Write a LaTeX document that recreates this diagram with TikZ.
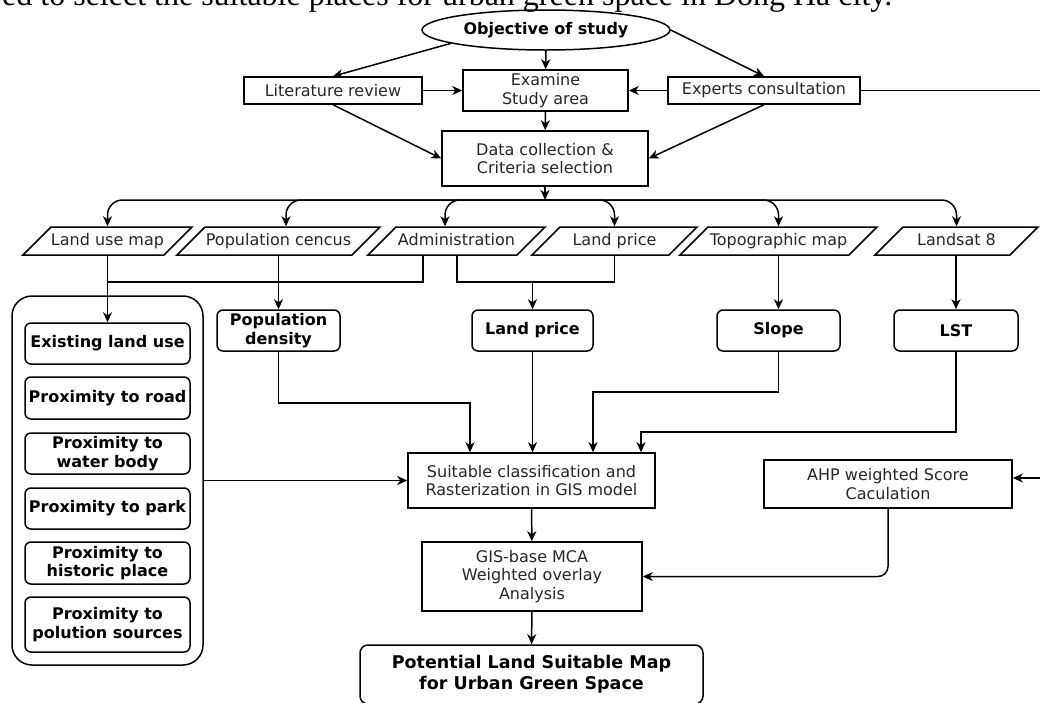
\documentclass[tikz,border=0pt]{standalone}
\usepackage{fontspec}
\setmainfont{DejaVu Sans}
\newfontfamily\capfont{Liberation Serif}
\usetikzlibrary{shapes.geometric,arrows.meta}

\begin{document}
\begin{tikzpicture}[x=1pt, y=-1pt, line width=1.5pt,
	>={Stealth[length=10pt,width=9pt,inset=3pt]},
	txt/.style={font=\fontsize{16}{18.5}\selectfont, text=black!85},
	bld/.style={font=\fontsize{16}{18.5}\selectfont\bfseries},
	box/.style={draw, rectangle, inner sep=0pt, align=center, txt},
	rbox/.style={draw, rectangle, rounded corners=6pt, inner sep=0pt, align=center, bld},
	dat/.style={draw, trapezium, trapezium left angle=45, trapezium right angle=135, trapezium stretches body, text height=12pt, text depth=4pt, inner xsep=0pt, inner ysep=6pt, txt}]
	\useasboundingbox (0,0) rectangle (1040,702);
	\clip (0,0) rectangle (1040,702);
	\node (cap) at (893,5) [anchor=base east, inner sep=0pt, font=\capfont\fontsize{32}{36}\selectfont] {ed to select the suitable places for urban green space in Dong Ha city.};
	\node (obj) at (546,30) [ellipse, draw, minimum width=248pt, minimum height=40pt, inner sep=0pt, bld] {Objective of study};
	\node (lit) at (333,90.5) [box, minimum width=178pt, minimum height=27pt] {Literature review};
	\node (exam) at (545.5,90.5) [box, minimum width=165pt, minimum height=41pt] {Examine\\Study area};
	\node (exp) at (764,90.5) [box, minimum width=192pt, minimum height=27pt] {Experts consultation};
	\node (data) at (545,158.5) [box, minimum width=206pt, minimum height=55pt] {Data collection \&\\Criteria selection};
		\node (lum) at (107.5,241) [dat, minimum width=165pt] {Land use map};
		\node (pop) at (278.5,241) [dat, minimum width=203pt] {Population cencus};
		\node (adm) at (456.5,241) [dat, minimum width=177pt] {Administration};
		\node (lpr) at (614.5,241) [dat, minimum width=165pt] {Land price};
		\node (topo) at (778.5,241) [dat, minimum width=197pt] {Topographic map};
		\node (lsat) at (956.5,241) [dat, minimum width=163pt] {Landsat 8};
			\node (popd) at (278.5,330.5) [rbox, minimum width=123pt, minimum height=41pt] {Population\\density};
			\node (lp) at (532.5,330.5) [rbox, minimum width=121pt, minimum height=41pt] {Land price};
			\node (slope) at (778.5,330.5) [rbox, minimum width=123pt, minimum height=41pt] {Slope};
			\node (lst) at (956,330.5) [rbox, minimum width=124pt, minimum height=41pt] {LST};
	\node (panel) at (107.5,480.5) [draw, rounded corners=20pt, minimum width=191pt, minimum height=369pt] {};
		\node (elu) at (107.5,343.5) [rbox, minimum width=165pt, minimum height=41pt] {Existing land use};
		\node (prd) at (107.5,398) [rbox, minimum width=165pt, minimum height=42pt] {Proximity to road};
		\node (pwb) at (107.5,453.5) [rbox, minimum width=165pt, minimum height=41pt] {Proximity to\\water body};
		\node (ppk) at (107.5,508.5) [rbox, minimum width=165pt, minimum height=41pt] {Proximity to park};
		\node (phs) at (107.5,563) [rbox, minimum width=165pt, minimum height=42pt] {Proximity to\\historic place};
		\node (pps) at (107.5,624.5) [rbox, minimum width=165pt, minimum height=55pt] {Proximity to\\polution sources};
	\node (suit) at (531.5,480.5) [box, minimum width=247pt, minimum height=55pt] {Suitable classification and\\Rasterization in GIS model};
	\node (ahp) at (888,484) [box, minimum width=248pt, minimum height=48pt] {AHP weighted Score\\Caculation};
	\node (gis) at (532,576.5) [box, minimum width=220pt, minimum height=69pt] {GIS-base MCA\\Weighted overlay\\Analysis};
	\node (pot) at (531.5,674.5) [rbox, rounded corners=8pt, minimum width=343pt, minimum height=59pt, font=\fontsize{17.5}{21}\selectfont\bfseries] {Potential Land Suitable Map\\for Urban Green Space};
	\coordinate (bus) at (545,200);
	\coordinate (out1) at (1040,90.5);
	\coordinate (out2) at (1040,478);
	\coordinate (j1) at (107.5,282);
	\coordinate (j2) at (614.5,282);
	\coordinate (k1) at (470,403);
	\coordinate (k2) at (593,392);
	\coordinate (k3) at (641,432);
	\draw[->] (obj.188) -- (lit.north);
	\draw[->] (obj) -- (exam);
	\draw[->] (obj.east) -- (exp.north);
	\draw[->] (lit) -- (exam);
	\draw[->] (exp) -- (exam);
	\draw (exp) -- (out1);
	\draw[->] (lit.south) -- (data.west);
	\draw[->] (exp.south) -- (data.east);
	\draw[->] (exam) -- (data);
	\draw[->] (data) -- (bus);
	\draw[->, rounded corners=15pt] (bus) -| (lum.north -| lum.center);
	\draw[->, rounded corners=15pt] (bus) -| ([xshift=7.5pt]pop.north -| pop.center);
	\draw[->, rounded corners=15pt] (bus) -| ([xshift=-11.5pt]adm.north -| adm.center);
	\draw[->, rounded corners=15pt] (bus) -| (lpr.north -| lpr.center);
	\draw[->, rounded corners=15pt] (bus) -| (topo.north -| topo.center);
	\draw[->, rounded corners=15pt] (bus) -| (lsat.north -| lsat.center);
	\draw[->] (lum.south -| elu.north) -- (elu.north);
	\draw (adm.south -| 423,0) |- (j1);
	\draw (adm.south -| 457,0) |- (j2) -- (lpr.south -| j2);
	\draw[->] (lp.north |- j2) -- (lp.north);
	\draw[->] (pop.south -| popd.north) -- (popd.north);
	\draw[->] (topo.south -| slope.north) -- (slope.north);
	\draw[->] (lsat.south -| lst.north) -- (lst.north);
	\draw[->] (popd) |- (k1) -- (k1 |- suit.north);
	\draw[->] (lp) -- (suit.north -| lp);
	\draw[->] (slope) |- (k2) -- (k2 |- suit.north);
	\draw[->] (lst) |- (k3) -- (k3 |- suit.north);
	\draw[->] (panel) -- (suit);
	\draw[->] (out2) -- (out2 -| ahp.east);
	\draw[->, rounded corners=10pt] (ahp) |- (gis);
	\draw[->] (suit) -- (gis);
	\draw[->] (gis) -- (pot);
\end{tikzpicture}
\end{document}
